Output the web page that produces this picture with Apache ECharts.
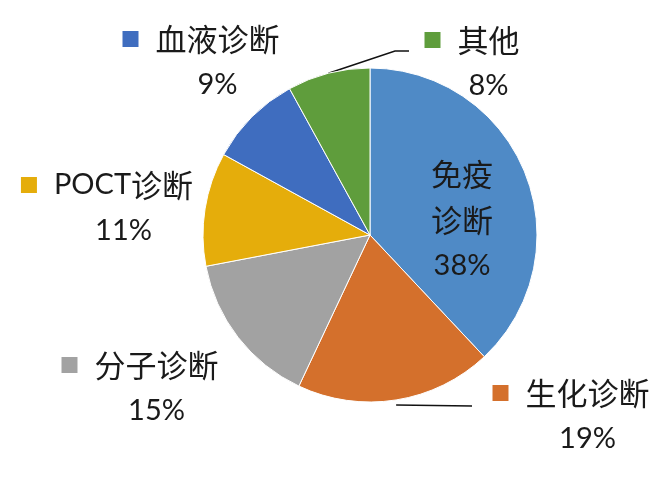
<!DOCTYPE html>
<html>
<head>
<meta charset="utf-8">
<script src="https://cdn.jsdelivr.net/npm/echarts@6/dist/echarts.min.js"></script>
<style>
html,body{margin:0;padding:0;background:#fff;}
#chart{width:665px;height:479px;}
</style>
</head>
<body>
<div id="chart"></div>
<script>
// Data
var categories = ['免疫诊断', '生化诊断', '分子诊断', 'POCT诊断', '血液诊断', '其他'];
var shares = [38, 19, 15, 11, 9, 8];

// Styles
var colors = ['#4F8AC6', '#D4702C', '#A2A2A2', '#E5AD0B', '#3F6DBF', '#5F9D3C'];
var labelPos = [[462, 220], [571, 416], [140, 388], [107, 208], [201, 62], [472, 63]];
var showLine = [false, true, false, false, false, true];
// leader line shape: [dx,dy] from the slice anchor for the start, then elbow/end points
var lineShape = {
  1: { startOffset: [0, 5], rest: [[472, 406]] },
  5: { startOffset: [0, 0], rest: [[395, 51], [409, 51]] }
};
var cjk = '"Noto Sans CJK SC", sans-serif';
var num = 'Lato, "Open Sans", sans-serif';

var chart = echarts.init(document.getElementById('chart'));

var data = categories.map(function (c, i) {
  return {
    name: c,
    value: shares[i],
    itemStyle: { color: colors[i] },
    labelLine: { show: showLine[i], lineStyle: { color: '#111', width: 1.5 } }
  };
});

var rich = {
  name: { fontFamily: cjk, fontSize: 31, color: '#1a1a1a', lineHeight: 46 },
  lat: { fontFamily: num, fontSize: 29, color: '#1a1a1a', lineHeight: 46 },
  pct: { fontFamily: num, fontSize: 29, color: '#1a1a1a', lineHeight: 46 },
  gap: { width: 17, height: 10 },
  sp: { width: 33, height: 10 }
};
colors.forEach(function (c, i) {
  rich['sq' + i] = { width: 16, height: 16, backgroundColor: c };
});

function fmtName(n) {
  return n.replace(/([A-Za-z]+)|([^A-Za-z]+)/g, function (m, lat, han) {
    return lat ? '{lat|' + lat + '}' : '{name|' + han + '}';
  });
}

chart.setOption({
  animation: false,
  backgroundColor: '#fff',
  series: [{
    type: 'pie',
    center: [370, 235],
    radius: 167,
    startAngle: 90,
    clockwise: true,
    data: data,
    itemStyle: { borderColor: '#ffffff', borderWidth: 1 },
    label: {
      show: true,
      overflow: 'none',
      width: 300,
      formatter: function (p) {
        var i = p.dataIndex;
        if (i === 0) {
          return '{name|' + p.name.slice(0, 2) + '}\n{name|' + p.name.slice(2) + '}\n{pct|' + p.value + '%}';
        }
        return '{sq' + i + '|}{gap|}' + fmtName(p.name) + '\n{sp|}{pct|' + p.value + '%}';
      },
      rich: rich
    },
    labelLayout: function (params) {
      var i = params.dataIndex;
      var p = labelPos[i];
      var out = { x: p[0], y: p[1], align: 'center', verticalAlign: 'middle' };
      var ls = lineShape[i];
      if (ls && params.labelLinePoints && params.labelLinePoints.length) {
        var a = params.labelLinePoints[0];
        out.labelLinePoints = [[a[0] + ls.startOffset[0], a[1] + ls.startOffset[1]]].concat(ls.rest);
      }
      return out;
    },
    labelLine: { length: 10, length2: 10 }
  }]
});
</script>
</body>
</html>
